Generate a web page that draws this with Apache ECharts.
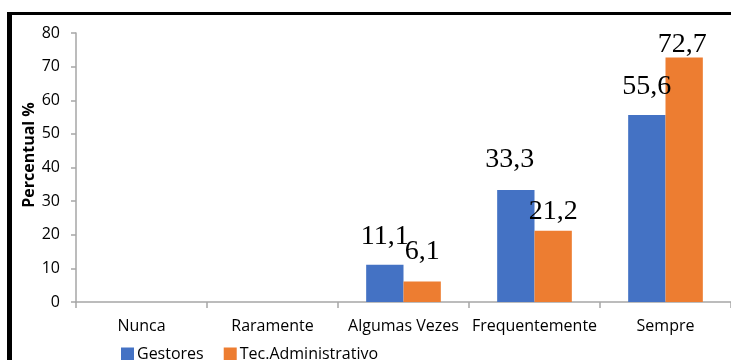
<!DOCTYPE html>
<html>
<head>
<meta charset="utf-8">
<script src="https://cdn.jsdelivr.net/npm/echarts@6/dist/echarts.min.js"></script>
<style>
html,body{margin:0;padding:0;background:#fff;}
#chart{width:731px;height:360px;}
</style>
</head>
<body>
<div id="chart"></div>
<script>
// Categories and values (percent)
var categories = ['Nunca', 'Raramente', 'Algumas Vezes', 'Frequentemente', 'Sempre'];
var gestores = [null, null, 11.1, 33.3, 55.6];
var tecAdministrativo = [null, null, 6.1, 21.2, 72.7];
var seriesNames = ['Gestores', 'Tec.Administrativo'];
var yTicks = [0, 10, 20, 30, 40, 50, 60, 70, 80];

// Label spacing above each bar (styling only)
var gestoresLabelLift = [0, 0, 14, 16, 14];
var tecLabelLift = [0, 0, 16, 5, -1];

function fmt(v) { return String(v).replace('.', ','); }

function buildData(values, lifts, dx) {
  return values.map(function (v, i) {
    if (v == null) return null;
    return { value: v, label: { distance: lifts[i], offset: [dx[i] || 0, 0] } };
  });
}

var chart = echarts.init(document.getElementById('chart'));
var labelStyle = {
  show: true, position: 'top',
  fontFamily: 'Liberation Serif', fontSize: 28, color: '#000',
  formatter: function (p) { return fmt(p.value); }
};
var sans = 'Open Sans';
chart.setOption({
  animation: false,
  backgroundColor: '#fff',
  grid: { left: 76, right: 0, top: 33, bottom: 58, containLabel: false },
  legend: {
    data: seriesNames, left: 121, top: 346, padding: 0,
    itemWidth: 13, itemHeight: 13, itemGap: 20,
    icon: 'rect',
    textStyle: { fontFamily: sans, fontSize: 16, lineHeight: 12, color: '#000', padding: [0, 0, 0, -2] }
  },
  xAxis: {
    type: 'category', data: categories,
    axisLine: { lineStyle: { color: '#a6a6a6', width: 1.5 } },
    axisTick: { show: true, length: 6, lineStyle: { color: '#a6a6a6', width: 1.5 } },
    axisLabel: { fontFamily: sans, fontSize: 16, color: '#000', margin: 16, interval: 0 }
  },
  yAxis: {
    type: 'value', min: 0, max: 80, interval: 10,
    name: 'Percentual %', nameLocation: 'middle', nameGap: 39, nameRotate: 90,
    nameMoveOverlap: false,
    nameTextStyle: { fontFamily: sans, fontSize: 16, fontWeight: 'bold', color: '#000', padding: [0, 0, 0, 25] },
    axisLine: { show: true, lineStyle: { color: '#a6a6a6', width: 1.5 } },
    axisTick: { show: true, length: 5, lineStyle: { color: '#a6a6a6', width: 1.5 } },
    splitLine: { show: false },
    axisLabel: {
      fontFamily: sans, fontSize: 16, color: '#000', margin: 16,
      formatter: function (v) { return yTicks.indexOf(v) >= 0 ? String(v) : ''; }
    }
  },
  series: [
    {
      name: seriesNames[0], type: 'bar', barGap: '0%', barCategoryGap: '43%',
      itemStyle: { color: '#4472c4' },
      label: labelStyle,
      data: buildData(gestores, gestoresLabelLift, [0, 0, 0, -6, 0])
    },
    {
      name: seriesNames[1], type: 'bar', barGap: '0%', barCategoryGap: '43%',
      itemStyle: { color: '#ed7d31' },
      label: labelStyle,
      data: buildData(tecAdministrativo, tecLabelLift, [0, 0, 0, 0, -2])
    }
  ],
  graphic: [
    { type: 'rect', shape: { x: 7, y: 12, width: 5, height: 360 }, style: { fill: '#000' } },
    { type: 'rect', shape: { x: 7, y: 12, width: 724, height: 3 }, style: { fill: '#000' } }
  ]
});
</script>
</body>
</html>
